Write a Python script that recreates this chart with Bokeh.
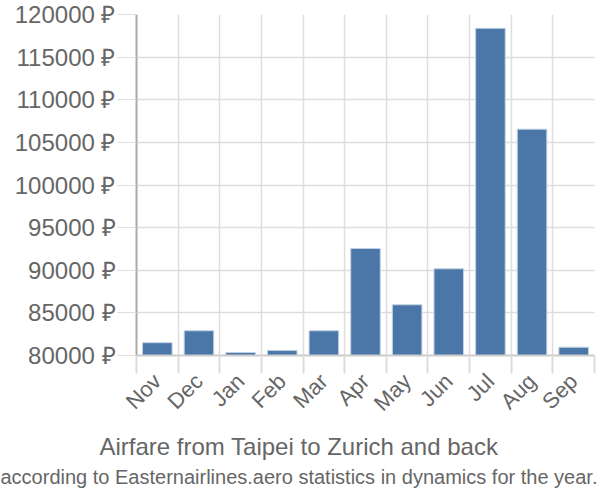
import math
from bokeh.plotting import figure
from bokeh.models import Range1d, FixedTicker, PrintfTickFormatter, Title, ColumnDataSource
from bokeh.embed import file_html
from bokeh.resources import INLINE

months = ["Nov", "Dec", "Jan", "Feb", "Mar", "Apr", "May", "Jun", "Jul", "Aug", "Sep"]
prices = [81500, 82900, 80350, 80600, 82900, 92550, 85950, 90170, 118380, 106550, 80970]
y_ticks = [80000, 85000, 90000, 95000, 100000, 105000, 110000, 115000, 120000]
title1 = "Airfare from Taipei to Zurich and back"
title2 = "according to Easternairlines.aero statistics in dynamics for the year."

FONT = "Liberation Sans"
GREY = "#666666"

n = len(months)
centers = [i + 0.5 for i in range(n)]
src = ColumnDataSource(dict(x=centers, top=prices, bottom=[y_ticks[0]] * n))

p = figure(width=600, height=500, output_backend="svg", toolbar_location=None,
           x_range=Range1d(0, n), y_range=Range1d(y_ticks[0], y_ticks[-1]),
           min_border_left=136, min_border_right=6, min_border_top=14, min_border_bottom=145)
p.outline_line_color = None

p.vbar(x="x", top="top", bottom="bottom", width=0.71, source=src,
       fill_color="#4a76a8", line_color="#c2d2e4", line_width=1)

# x axis
xt = FixedTicker(ticks=centers, minor_ticks=list(range(n + 1)))
p.xaxis.ticker = xt
p.xaxis.major_label_overrides = {c: m for c, m in zip(centers, months)}
p.xaxis.major_label_orientation = math.pi / 4
p.xaxis.major_tick_out = 0
p.xaxis.major_tick_in = 0
p.xaxis.minor_tick_out = 18
p.xaxis.minor_tick_in = 0
p.xaxis.minor_tick_line_color = "#dddddd"
p.xaxis.minor_tick_line_width = 2
p.xaxis.axis_line_color = "#cccccc"
p.xaxis.axis_line_width = 2
p.xaxis.major_label_text_font = FONT
p.xaxis.major_label_text_font_size = "22px"
p.xaxis.major_label_text_color = GREY
p.xaxis.major_label_standoff = 4

p.xgrid.ticker = FixedTicker(ticks=list(range(n + 1)))
p.xgrid.grid_line_color = "#dddddd"
p.xgrid.grid_line_width = 1.5

# y axis
p.yaxis.ticker = FixedTicker(ticks=y_ticks)
p.yaxis.formatter = PrintfTickFormatter(format="%d ₽")
p.yaxis.major_tick_out = 19
p.yaxis.major_tick_in = 0
p.yaxis.minor_tick_out = 0
p.yaxis.minor_tick_in = 0
p.yaxis.major_tick_line_color = "#dddddd"
p.yaxis.axis_line_color = "#aaaaaa"
p.yaxis.axis_line_width = 2
p.yaxis.major_label_text_font = FONT
p.yaxis.major_label_text_font_size = "24px"
p.yaxis.major_label_text_color = GREY
p.yaxis.major_label_standoff = 2

p.ygrid.grid_line_color = "#dddddd"
p.ygrid.grid_line_width = 1.5

t1 = Title(text=title1, align="left", offset=-37, text_font=FONT, text_font_size="24px",
           text_font_style="normal", text_color=GREY, standoff=6)
t2 = Title(text=title2, align="left", offset=-136, text_font=FONT, text_font_size="20px",
           text_font_style="normal", text_color=GREY, standoff=3)
p.add_layout(t1, "below")
p.add_layout(t2, "below")

open("out.html", "w").write(file_html(p, INLINE))
